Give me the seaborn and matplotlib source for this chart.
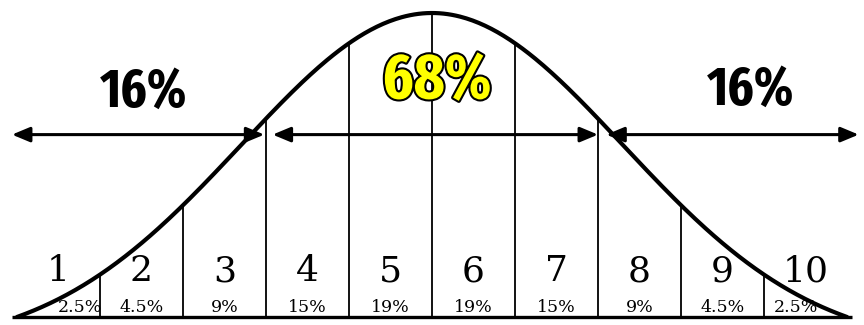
import numpy as np
import pandas as pd
import matplotlib
matplotlib.use('Agg')
import matplotlib.pyplot as plt
import matplotlib.patheffects as pe
from matplotlib import font_manager
import seaborn as sns

# etiquetas de cada franja (de izquierda a derecha)
franjas = ['1', '2', '3', '4', '5', '6', '7', '8', '9', '10']
porcentajes = ['2.5%', '4.5%', '9%', '15%', '19%', '19%', '15%', '9%', '4.5%', '2.5%']
# limites de las franjas en desviaciones estandar
limites = [-2.5, -2.0, -1.5, -1.0, -0.5, 0.0, 0.5, 1.0, 1.5, 2.0, 2.5]
# bloques grandes: izquierda, centro, derecha
bloques = ['16%', '68%', '16%']
bloques_lim = [(-2.53, -1.01), (-0.96, 1.00), (1.05, 2.57)]

# forma de la campana
sigma_curva = 1.15
z_fin = 2.5


def campana(z):
    c = np.exp(-z_fin ** 2 / (2 * sigma_curva ** 2))
    return (np.exp(-np.asarray(z) ** 2 / (2 * sigma_curva ** 2)) - c) / (1 - c)


def fuente_angosta():
    # buscar alguna fuente bold condensada instalada
    mejor = None
    for f in font_manager.fontManager.ttflist:
        nombre = (f.name + ' ' + f.fname).lower()
        angosta = ('narrow' in nombre or 'condensed' in nombre
                   or f.stretch in ('condensed', 'extra-condensed', 'ultra-condensed'))
        if not angosta or 'mono' in nombre or 'italic' in nombre or 'oblique' in nombre:
            continue
        if f.weight not in (700, 'bold'):
            continue
        rango = 0 if 'extracondensed' in nombre.replace('-', '').replace(' ', '') else 1
        if 'narrow' in nombre:
            rango = 0
        if mejor is None or rango < mejor[0]:
            mejor = (rango, f.fname)
    if mejor:
        return font_manager.FontProperties(fname=mejor[1])
    return font_manager.FontProperties(family='Liberation Sans', weight='bold')


sns.set_theme(style='white')

z = np.linspace(-z_fin, z_fin, 400)
df = pd.DataFrame({'z': z, 'y': campana(z)})

fig = plt.figure(figsize=(8.64, 3.25), dpi=100)
ax = fig.add_axes([0, 0, 1, 1])

# lineas verticales de cada franja
internos = np.array(limites[1:-1])
ax.vlines(internos, 0, campana(internos), color='black', lw=1.3, zorder=2)

sns.lineplot(data=df, x='z', y='y', color='black', lw=3, ax=ax, zorder=4)
ax.plot([-2.53, 2.53], [0, 0], color='black', lw=2.4, solid_capstyle='butt', zorder=3)

# flechas de los bloques
for x0, x1 in bloques_lim:
    ax.annotate('', xy=(x1, 0.6), xytext=(x0, 0.6),
                arrowprops=dict(arrowstyle='<|-|>,head_length=0.6,head_width=0.25',
                                mutation_scale=18, lw=2.2, color='black',
                                shrinkA=0, shrinkB=0), zorder=5)

fp = fuente_angosta()
ax.text(-1.74, 0.74, bloques[0], ha='center', va='center', fontproperties=fp,
        fontsize=39, color='black')
ax.text(1.92, 0.745, bloques[2], ha='center', va='center', fontproperties=fp,
        fontsize=39, color='black')
ax.text(0.03, 0.775, bloques[1], ha='center', va='center', fontproperties=fp,
        fontsize=46, color='#FFFF00',
        path_effects=[pe.withStroke(linewidth=3, foreground='black')], zorder=6)

# numeros y porcentajes de cada franja
medios = [(a + b) / 2 for a, b in zip(limites[:-1], limites[1:])]
for i, (m, n, p) in enumerate(zip(medios, franjas, porcentajes)):
    ax.text(m, 0.15, n, ha='center', va='center', fontsize=26,
            family='DejaVu Serif', color='black', zorder=3)
    xp = m
    if i == 0:
        xp = m + 0.13
    elif i == len(franjas) - 1:
        xp = m - 0.06
    ax.text(xp, 0.03, p, ha='center', va='center', fontsize=12.5,
            family='DejaVu Serif', color='black', zorder=3)

ax.set_xlim(-2.602, 2.602)
ax.set_ylim(-0.0263, 1.0428)
ax.axis('off')

fig.savefig('out.png', dpi=100, facecolor='white')
